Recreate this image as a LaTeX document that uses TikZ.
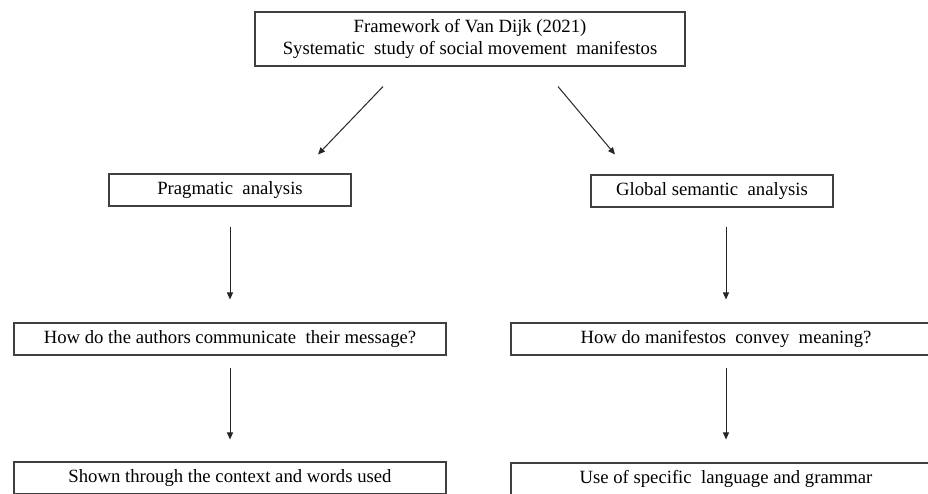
\documentclass[tikz,border=0pt]{standalone}
\usepackage{fontspec}
\setmainfont{Liberation Serif}
\usetikzlibrary{arrows.meta,calc}
\begin{document}
\begin{tikzpicture}[x=1pt,y=-1pt,
  box/.style={draw=black!75,line width=1.1pt,fill=white,inner sep=0pt,
    font=\fontsize{18.7}{22}\selectfont,align=center},
  arr/.style={draw=black!85,line width=1pt,-{Triangle[length=7pt,width=6pt]}}]
\useasboundingbox (0,0) rectangle (928,493);
\clip (0,0) rectangle (928,493);
\fill[white] (0,0) rectangle (928,493);
\node[box,minimum width=430pt,minimum height=54pt] (top) at (470,39)
  {Framework of Van Dijk (2021)\\Systematic\ \ study of social movement\ \ manifestos};
\node[box,minimum width=242pt,minimum height=32pt] (prag) at (230,190) {Pragmatic\ \ analysis};
\node[box,minimum width=242pt,minimum height=32pt] (glob) at (712,191) {Global semantic\ \ analysis};
\node[box,minimum width=432pt,minimum height=32pt] (l2) at (230,339) {How do the authors communicate\ \ their message?};
\node[box,minimum width=430pt,minimum height=32pt] (r2) at (726,339) {How do manifestos\ \ convey\ \ meaning?};
\node[box,minimum width=432pt,minimum height=32pt] (l3) at (230,478) {Shown through the context and words used};
\node[box,minimum width=430pt,minimum height=32pt] (r3) at (726,479) {Use of specific\ \ language and grammar};
\draw[arr] ([xshift=-87pt,yshift=-20pt]top.south) -- ([xshift=88pt,yshift=19pt]prag.north);
\draw[arr] ([xshift=88pt,yshift=-20pt]top.south) -- ([xshift=-97pt,yshift=20pt]glob.north);
\draw[arr,shorten <=20pt,shorten >=23pt] (prag.south) -- (l2.north);
\draw[arr,shorten <=19pt,shorten >=23pt] (glob.south -| r2) -- (r2.north);
\draw[arr,shorten <=12pt,shorten >=22pt] (l2.south) -- (l3.north);
\draw[arr,shorten <=12pt,shorten >=23pt] (r2.south) -- (r3.north);
\end{tikzpicture}
\end{document}
